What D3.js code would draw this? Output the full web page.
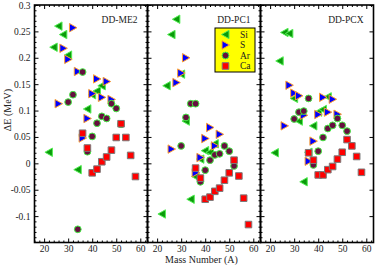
<!DOCTYPE html>
<html><head><meta charset="utf-8">
<script src="https://cdn.jsdelivr.net/npm/d3@7"></script>
<style>html,body{margin:0;padding:0;background:#fff;}svg{display:block;}</style>
</head><body>
<svg id="c" width="375" height="265"></svg>
<script>
// ---- data (A, ΔE in MeV) ----
const ME2_Si = [[22,0.021],[24,0.22],[26,0.26],[28,0.244],[30,0.205],[34,-0.012],[38,0.103],[40,0.13],[42,0.137],[44,0.147]];
const ME2_S  = [[26,0.113],[28,0.218],[30,0.197],[32,0.257],[34,0.174],[36,0.048],[38,0.085],[40,0.132],[42,0.16],[44,0.125],[46,0.155],[48,0.121]];
const ME2_Ar = [[30,0.116],[32,0.13],[34,-0.125],[36,0.173],[38,0.022],[40,0.051],[42,0.076],[44,0.089],[46,0.085],[48,0.113],[50,0.104],[52,0.074]];
const ME2_Ca = [[36,0.057],[38,0.029],[40,-0.018],[42,-0.011],[44,0.003],[46,0.012],[48,0.025],[50,0.049],[52,0.075],[54,0.049],[56,0.015],[58,-0.025]];

const PC1_Si = [[22,-0.096],[24,0.147],[26,0.244],[28,0.273],[30,0.169],[32,0.08],[34,-0.068],[36,-0.025],[38,0.008],[40,0.024],[42,0.021],[44,0.037]];
const PC1_S  = [[26,0.027],[28,0.153],[30,0.171],[32,0.2],[36,-0.018],[38,0.011],[40,0.047],[42,0.068],[44,0.033],[46,0.055]];
const PC1_Ar = [[30,0.033],[32,0.087],[34,0.113],[36,0.113],[38,-0.035],[40,-0.013],[42,0.006],[44,0.016],[46,0.018],[48,0.033],[50,0.023],[52,-0.005]];
const PC1_Ca = [[36,-0.009],[38,-0.028],[40,-0.068],[42,-0.064],[44,-0.053],[46,-0.047],[48,-0.032],[50,-0.018],[52,0.006],[54,-0.024],[56,-0.066],[58,-0.116]];

const PCX_Si = [[22,0.02],[24,0.194],[26,0.248],[28,0.246],[30,0.123],[32,0.08],[34,-0.035],[36,0.021],[38,0.071],[40,0.097],[42,0.102],[44,0.126]];
const PCX_S  = [[26,0.071],[28,0.148],[30,0.133],[32,0.128],[34,0.091],[36,0.004],[38,0.042],[40,0.0925],[42,0.125],[44,0.097],[46,0.1215],[48,0.093]];
const PCX_Ar = [[30,0.084],[32,0.097],[34,0.099],[36,0.123],[38,-0.003],[40,0.023],[42,0.049],[44,0.066],[46,0.072],[48,0.085],[50,0.072],[52,0.061]];
const PCX_Ca = [[36,0.02],[38,0.006],[40,-0.022],[42,-0.022],[44,-0.012],[46,-0.006],[48,0.008],[50,0.021],[52,0.045],[54,0.033],[56,0.013],[58,-0.017]];

const panelNames = ["DD-ME2","DD-PC1","DD-PCX"];
const elements = ["Si","S","Ar","Ca"];
const xTicks = [20,30,40,50,60];
const yTicks = [0.3,0.25,0.2,0.15,0.1,0.05,0,-0.05,-0.1];

const panels = [
  {name: panelNames[0], series: [ME2_Si, ME2_S, ME2_Ar, ME2_Ca]},
  {name: panelNames[1], series: [PC1_Si, PC1_S, PC1_Ar, PC1_Ca]},
  {name: panelNames[2], series: [PCX_Si, PCX_S, PCX_Ar, PCX_Ca]}
];

// ---- layout ----
const svg = d3.select("#c");
const FONT = "Liberation Serif, Times New Roman, serif";
const plotTop = 5, plotBottom = 242.5, pw = 113, x0s = [34.5, 147.5, 260.5];
const y = d3.scaleLinear().domain([-0.15, 0.3]).range([plotBottom, plotTop]);

const styles = {
  Si: {fill:"#0a9a0a", stroke:"#55ee55"},
  S:  {fill:"#0000ff", stroke:"#ffa030"},
  Ar: {fill:"#66103f", stroke:"#44ee44"},
  Ca: {fill:"#ff0000", stroke:"#7a7a7a"}
};
function markerPath(el){
  if (el==="Si") return "M-4,0L3.5,-4.2L3.5,4.2Z";
  if (el==="S") return "M4,0L-3.5,-4.2L-3.5,4.2Z";
  if (el==="Ar") return d3.symbol(d3.symbolCircle, 36)();
  return "M-3.3,-3.3H3.3V3.3H-3.3Z";
}
function drawMarker(g, el, tx, ty){
  g.append("path").attr("d", markerPath(el))
    .attr("transform", `translate(${tx},${ty})`)
    .attr("fill", styles[el].fill).attr("stroke", styles[el].stroke).attr("stroke-width", 1);
}

const minorX = d3.range(16, 63, 2).filter(v => v % 10 !== 0);
const minorY = d3.range(-15, 31, 1).filter(v => v % 5 !== 0).map(v => v/100);

panels.forEach((p, i) => {
  const x0 = x0s[i];
  const x = d3.scaleLinear().domain([16, 63]).range([x0, x0 + pw]);
  const g = svg.append("g");

  // markers
  p.series.forEach((s, k) => {
    const el = elements[k];
    s.forEach(d => drawMarker(g, el, x(d[0]), y(d[1])));
  });

  // axes (inward ticks)
  const ax = svg.append("g").attr("font-family", FONT);
  ax.append("g").attr("transform", `translate(0,${plotBottom})`)
    .call(d3.axisBottom(x).tickValues(xTicks).tickSizeInner(-4).tickSizeOuter(0).tickPadding(2.5).tickFormat(d3.format("d")));
  ax.append("g").attr("transform", `translate(0,${plotBottom})`)
    .call(d3.axisBottom(x).tickValues(minorX).tickSizeInner(-2).tickSizeOuter(0).tickFormat(""));
  ax.append("g").attr("transform", `translate(0,${plotTop})`)
    .call(d3.axisTop(x).tickValues(xTicks).tickSizeInner(-4).tickSizeOuter(0).tickFormat(""));
  ax.append("g").attr("transform", `translate(0,${plotTop})`)
    .call(d3.axisTop(x).tickValues(minorX).tickSizeInner(-2).tickSizeOuter(0).tickFormat(""));

  ax.append("g").attr("transform", `translate(${x0},0)`)
    .call(d3.axisLeft(y).tickValues(yTicks).tickSizeInner(-4).tickSizeOuter(0).tickPadding(4)
      .tickFormat(i === 0 ? (d => String(+d.toFixed(2))) : ""));
  ax.append("g").attr("transform", `translate(${x0},0)`)
    .call(d3.axisLeft(y).tickValues(minorY).tickSizeInner(-2).tickSizeOuter(0).tickFormat(""));
  ax.append("g").attr("transform", `translate(${x0+pw},0)`)
    .call(d3.axisRight(y).tickValues(yTicks).tickSizeInner(-4).tickSizeOuter(0).tickFormat(""));
  if (i < 2) {
    ax.append("g").attr("transform", `translate(${x0+pw},0)`)
      .call(d3.axisRight(y).tickValues(minorY).tickSizeInner(-2).tickSizeOuter(0).tickFormat(""));
  }
  ax.selectAll(".domain").remove();
  ax.selectAll("line").attr("stroke", "#000").attr("stroke-width", 1);
  ax.selectAll("text").attr("font-size", 9.5).attr("font-family", FONT).attr("fill", "#222");

  // frame
  svg.append("rect").attr("x", x0).attr("y", plotTop).attr("width", pw).attr("height", plotBottom - plotTop)
    .attr("fill", "none").attr("stroke", "#000").attr("stroke-width", 1.6);

  // panel label
  svg.append("text").attr("x", x0 + pw - 10).attr("y", 22.5).attr("text-anchor", "end")
    .attr("font-family", FONT).attr("font-size", 9.5).attr("fill", "#222").text(p.name);
});

// legend in middle panel
const lg = svg.append("g");
lg.append("rect").attr("x", 215).attr("y", 28).attr("width", 40).attr("height", 44)
  .attr("fill", "#ffff00").attr("stroke", "#000").attr("stroke-width", 1);
elements.forEach((el, k) => {
  const cy = 34.5 + k * 10.5;
  drawMarker(lg, el, 225.5, cy);
  lg.append("text").attr("x", 240).attr("y", cy).attr("dy", "0.35em")
    .attr("font-family", FONT).attr("font-size", 9.5).attr("fill", "#222").text(el);
});

// axis titles
svg.append("text").attr("x", 201.5).attr("y", 263).attr("text-anchor", "middle")
  .attr("font-family", FONT).attr("font-size", 10).attr("fill", "#222").text("Mass Number (A)");
svg.append("text").attr("transform", "translate(10.5,110) rotate(-90)").attr("text-anchor", "middle")
  .attr("font-family", FONT).attr("font-size", 10).attr("fill", "#222").text("ΔE (MeV)");
</script>
</body></html>
